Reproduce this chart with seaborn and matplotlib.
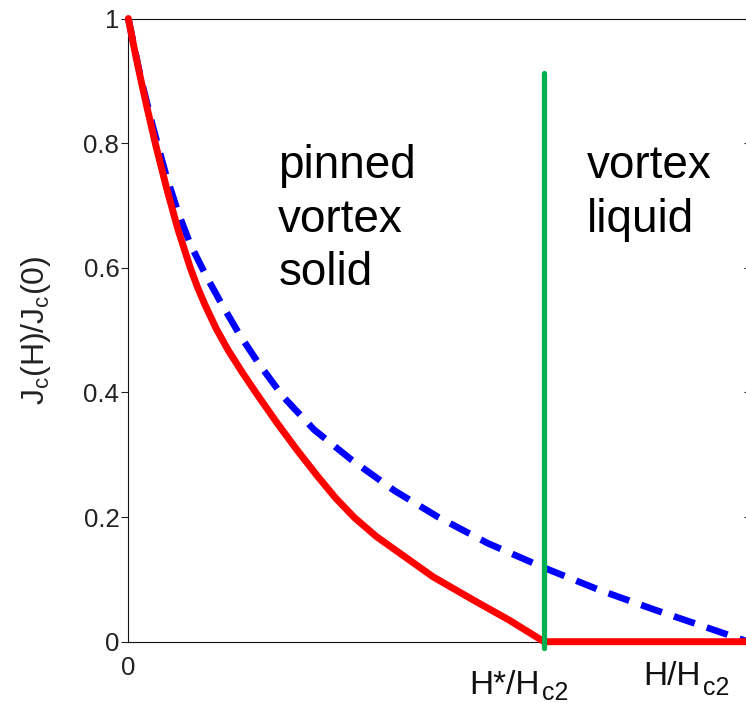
import matplotlib
matplotlib.use("Agg")
import matplotlib.pyplot as plt
import seaborn as sns
import pandas as pd

# ---- data ----
red_x = [0.0, 0.01, 0.02, 0.03, 0.0447, 0.062, 0.08, 0.10, 0.112, 0.124, 0.142, 0.161,
         0.184, 0.207, 0.240, 0.272, 0.305, 0.335, 0.365, 0.400, 0.4385, 0.492, 0.557,
         0.614, 0.671, 1.0]
red_y = [1.0, 0.95, 0.903, 0.858, 0.795, 0.727, 0.662, 0.600, 0.568, 0.540, 0.502, 0.468,
         0.432, 0.398, 0.351, 0.308, 0.266, 0.230, 0.199, 0.169, 0.1417, 0.104, 0.0667,
         0.035, 0.0, 0.0]

blue_x = [0.0, 0.02, 0.04, 0.06, 0.08, 0.10, 0.125, 0.15, 0.18, 0.21, 0.25, 0.30,
          0.36, 0.43, 0.50, 0.58, 0.67, 0.76, 0.85, 0.93, 1.0]
blue_y = [1.0, 0.905, 0.825, 0.752, 0.690, 0.638, 0.588, 0.543, 0.492, 0.447, 0.393,
          0.340, 0.292, 0.242, 0.200, 0.158, 0.119, 0.083, 0.051, 0.024, 0.0]

green_x = [0.671, 0.671]
green_y = [-0.01, 0.913]

ytick_vals = [0, 0.2, 0.4, 0.6, 0.8, 1.0]
ytick_labels = ["0", "0.2", "0.4", "0.6", "0.8", "1"]
xtick_vals = [0]
xtick_labels = ["0"]

left_text = ["pinned", "vortex", "solid"]
right_text = ["vortex", "liquid"]
line_y = [0.7446, 0.658, 0.5727]

# ---- styling ----
sns.set_theme(style="white")
plt.rcParams["font.family"] = ["Liberation Sans", "DejaVu Sans"]
plt.rcParams["mathtext.fontset"] = "custom"
plt.rcParams["mathtext.rm"] = "Liberation Sans"
plt.rcParams["mathtext.it"] = "Liberation Sans:italic"

fig = plt.figure(figsize=(7.46, 7.06), dpi=100)
ax = fig.add_axes([128.3 / 746, (706 - 641.7) / 706, 619.7 / 746, (641.7 - 18.5) / 706])

df_blue = pd.DataFrame({"x": blue_x, "y": blue_y})
df_red = pd.DataFrame({"x": red_x, "y": red_y})
df_green = pd.DataFrame({"x": green_x, "y": green_y})

sns.lineplot(data=df_blue, x="x", y="y", ax=ax, color="#0000FF", linewidth=4.8,
             linestyle=(0, (3.3, 1.9)), estimator=None, sort=False, clip_on=False, zorder=3)
sns.lineplot(data=df_red, x="x", y="y", ax=ax, color="#FF0000", linewidth=5,
             estimator=None, sort=False, clip_on=False, zorder=4)
sns.lineplot(data=df_green, x="x", y="y", ax=ax, color="#00B050", linewidth=3.8,
             estimator=None, sort=False, clip_on=False, zorder=5)

ax.set_xlim(0, 1)
ax.set_ylim(0, 1)
ax.set_xlabel("")
ax.set_ylabel(r"J$_\mathrm{c}$(H)/J$_\mathrm{c}$(0)", fontsize=23, color="#222222")
ax.yaxis.set_label_coords(-0.122, 0.5)

ax.set_yticks(ytick_vals)
ax.set_yticklabels(ytick_labels)
ax.set_xticks(xtick_vals)
ax.set_xticklabels(xtick_labels)
ax.tick_params(axis="y", direction="out", length=4.7, width=0.8, pad=1.8,
               labelsize=18.5, colors="#222222", left=True)
ax.tick_params(axis="x", length=0, pad=10.5, labelsize=18.5, colors="#222222")

sec = ax.secondary_yaxis("right")
sec.set_yticks(ytick_vals)
sec.tick_params(direction="in", length=3, width=0.8, labelright=False, colors="#222222")

for s in ["left", "top", "bottom", "right"]:
    ax.spines[s].set_color("#111111")
    ax.spines[s].set_linewidth(0.8)

for txt, yy in zip(left_text, line_y):
    ax.text(0.242, yy, txt, fontsize=33, ha="left", va="baseline", color="black")
for txt, yy in zip(right_text, line_y):
    ax.text(0.740, yy, txt, fontsize=33, ha="left", va="baseline", color="black")

# x-axis annotations: main part, then subscript attached to its right end
main1 = ax.text(0.550, -0.0832, "H*/H", fontsize=24, ha="left", va="baseline",
                color="#111111", clip_on=False)
main2 = ax.text(0.831, -0.0699, "H/H", fontsize=24, ha="left", va="baseline",
                color="#111111", clip_on=False)
fig.canvas.draw()
for main, dy in [(main1, -3.0), (main2, -5.5)]:
    ax.annotate("c2", xy=(1, 0), xycoords=main, xytext=(1.5, dy),
                textcoords="offset points", fontsize=18, ha="left", va="bottom",
                color="#111111", annotation_clip=False)

fig.savefig("out.png", dpi=100)
